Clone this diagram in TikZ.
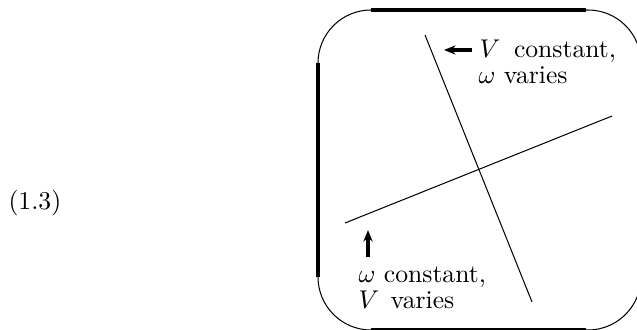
\documentclass[tikz,border=0pt]{standalone}
\usetikzlibrary{arrows.meta}
\begin{document}
\begin{tikzpicture}[x=0.39pt,y=-0.39pt,
  thinline/.style={line width=0.4pt},
  thickside/.style={line width=1.2pt},
  lbl/.style={anchor=base west,inner sep=0pt},
  arr/.style={line width=1.2pt,-{Stealth[length=4.5pt,width=3.6pt]}}]
\useasboundingbox (0,0) rectangle (637,329);
% rounded frame
\draw[thinline, rounded corners=20.67pt] (318,10) rectangle (641,330);
\coordinate (L1) at (318,63);  \coordinate (L2) at (318,277);
\coordinate (T1) at (371,10);  \coordinate (T2) at (586,10);
\coordinate (R1) at (641,63);  \coordinate (R2) at (641,277);
\coordinate (B1) at (371,330); \coordinate (B2) at (586,330);
\draw[thickside] (L1) -- (L2);
\draw[thickside] (T1) -- (T2);
\draw[thickside] (R1) -- (R2);
\draw[thickside] (B1) -- (B2);
% crossing lines
\coordinate (a1) at (425,35);  \coordinate (a2) at (532,302);
\coordinate (b1) at (345,223); \coordinate (b2) at (612,116);
\draw[thinline] (a1) -- (a2);
\draw[thinline] (b1) -- (b2);
% labels
\node[lbl] (vc) at (479,57.5) {$V$\hspace{5.4pt}constant,};
\node[lbl] (wv) at (478,83.5) {$\omega$ varies};
\node[lbl] (wc) at (358,282) {$\omega$ constant,};
\node[lbl] (vv) at (358,308) {$V$\hspace{4.5pt}varies};
\node[lbl] (eq) at (8,209) {(1.3)};
% arrows
\coordinate (u1) at (472,50); \coordinate (u2) at (444,50);
\draw[arr] (u1) -- (u2);
\coordinate (d1) at (368,257); \coordinate (d2) at (368,230);
\draw[arr] (d1) -- (d2);
\end{tikzpicture}
\end{document}
